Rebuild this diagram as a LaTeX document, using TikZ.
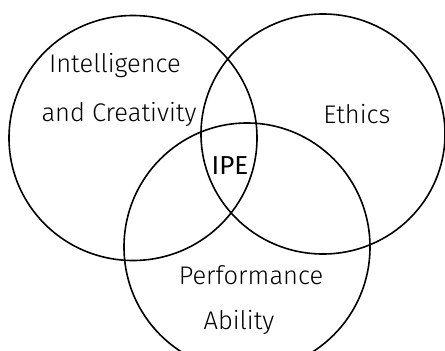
\documentclass[tikz,border=0pt]{standalone}
\usepackage{fontspec}
\newfontfamily\lbl{Fira Sans Light}
\newfontfamily\lblb{Fira Sans}
\begin{document}
\begin{tikzpicture}[x=1pt,y=-1pt,
  ring/.style={draw=black,line width=1.6pt},
  lab/.style={font=\lbl\fontsize{25.5}{28}\selectfont,inner sep=0pt,anchor=center}]
\useasboundingbox (0,0) rectangle (445,351);
\draw[ring] (133,138) ellipse [x radius=124,y radius=122.5];
\draw[ring] (323,134) ellipse [x radius=122,y radius=120];
\draw[ring] (247,247) ellipse [x radius=123,y radius=124];
\node[lab] (i1) at (115,66) {Intelligence};
\node[lab] (i2) at (119,114) {and Creativity};
\node[lab] (eth) at (357,114) {Ethics};
\node[lab,font=\lblb\fontsize{26}{29}\selectfont] (ipe) at (230,166) {IPE};
\node[lab] (p1) at (251,275) {Performance};
\node[lab] (p2) at (239,322) {Ability};
\end{tikzpicture}
\end{document}
